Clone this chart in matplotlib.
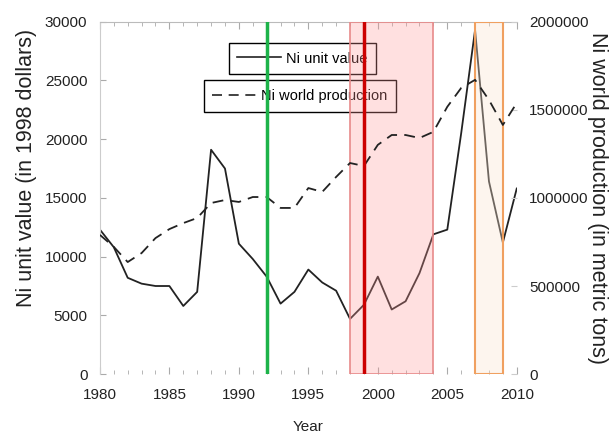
import matplotlib.pyplot as plt
from matplotlib.lines import Line2D
from matplotlib.ticker import MultipleLocator, FuncFormatter

plt.rcParams['font.family'] = ['Liberation Sans', 'DejaVu Sans']

years = list(range(1980, 2011))
unit_value = [12300, 10800, 8200, 7700, 7500, 7500, 5800, 7000, 19100, 17500,
              11100, 9800, 8300, 6000, 7000, 8900, 7800, 7100, 4700, 5900,
              8300, 5500, 6200, 8600, 11900, 12300, 20500, 29300, 16400, 11200,
              15800]
production = [790000, 722000, 636000, 687000, 772000, 823000, 857000, 886000, 971000, 988000,
              977000, 1005000, 1005000, 943000, 943000, 1056000, 1034000, 1119000, 1198000, 1181000,
              1301000, 1357000, 1357000, 1340000, 1375000, 1517000, 1624000, 1670000, 1556000, 1414000,
              1539000]

green_year = 1992
red_year = 1999
pink_span = (1998, 2004)
orange_span = (2007, 2009)

fig = plt.figure(figsize=(6.13, 4.34), dpi=100)
ax = fig.add_axes([0.163, 0.138, 0.68, 0.812])
ax2 = ax.twinx()

ax.plot(years, unit_value, color='#222222', lw=1.3)
ax2.plot(years, production, color='#222222', lw=1.3, dashes=(6, 4))

ax.set_xlim(1980, 2010)
ax.set_ylim(0, 30000)
ax2.set_ylim(0, 2000000)

# highlighted periods and markers go on the twin axes so they sit over the legends
ax2.axvspan(*pink_span, facecolor='#ff9999', alpha=0.3, edgecolor='none')
ax2.axvspan(*pink_span, facecolor='none', edgecolor='#e88a8a', lw=1.2)
ax2.axvspan(*orange_span, facecolor='#fbe3cf', alpha=0.35, edgecolor='none')
ax2.axvspan(*orange_span, facecolor='none', edgecolor='#f0a060', lw=1.5)
ax2.axvline(green_year, color='#1db34a', lw=2.5)
ax2.axvline(red_year, color='#cc0000', lw=2.5)

ax.xaxis.set_major_locator(MultipleLocator(5))
ax.xaxis.set_minor_locator(MultipleLocator(1))
ax.yaxis.set_major_locator(MultipleLocator(5000))
ax2.yaxis.set_major_locator(MultipleLocator(500000))
ax2.yaxis.set_major_formatter(FuncFormatter(lambda v, p: f'{int(v)}'))

for a in (ax, ax2):
    for s in a.spines.values():
        s.set_visible(False)
ax.spines['left'].set_visible(True)
ax.spines['top'].set_visible(True)
ax.spines['left'].set_color('#cccccc')
ax.spines['top'].set_color('#bbbbbb')

ax.tick_params(axis='x', which='both', direction='in', top=True, colors='#aaaaaa',
               labelcolor='#222222', labelsize=11, pad=10)
ax.tick_params(axis='x', which='major', length=5)
ax.tick_params(axis='x', which='minor', length=3)
ax.tick_params(axis='y', direction='in', length=4, colors='#aaaaaa', labelcolor='#222222',
               labelsize=11, pad=9)
ax2.tick_params(axis='y', direction='in', length=4, colors='#cccccc', labelcolor='#222222',
                labelsize=11, pad=9)

ax.set_xlabel('Year', fontsize=11, color='#222222')
ax.xaxis.set_label_coords(0.5, -0.13)
ax.set_ylabel('Ni unit value (in 1998 dollars)', fontsize=15.5, color='#222222')
ax.yaxis.set_label_coords(-0.15, 0.585)
ax2.set_ylabel('Ni world production (in metric tons)', fontsize=15.5, color='#222222',
               rotation=270, labelpad=14)

h1 = Line2D([], [], color='#222222', lw=1.2)
h2 = Line2D([], [], color='#222222', lw=1.2, dashes=(6, 4))
leg1 = ax.legend([h1], ['Ni unit value'], loc='upper left', bbox_to_anchor=(0.309, 0.94),
                 fontsize=10.5, fancybox=False, edgecolor='black', framealpha=1,
                 handlelength=3.0, borderpad=0.6, handletextpad=0.3, borderaxespad=0)
leg1.get_frame().set_linewidth(1.0)
ax.add_artist(leg1)
leg2 = ax.legend([h2], ['Ni world production'], loc='upper left', bbox_to_anchor=(0.249, 0.834),
                 fontsize=10.5, fancybox=False, edgecolor='black', framealpha=1,
                 handlelength=3.0, borderpad=0.6, handletextpad=0.3, borderaxespad=0)
leg2.get_frame().set_linewidth(1.0)

fig.savefig('out.png', dpi=100)
